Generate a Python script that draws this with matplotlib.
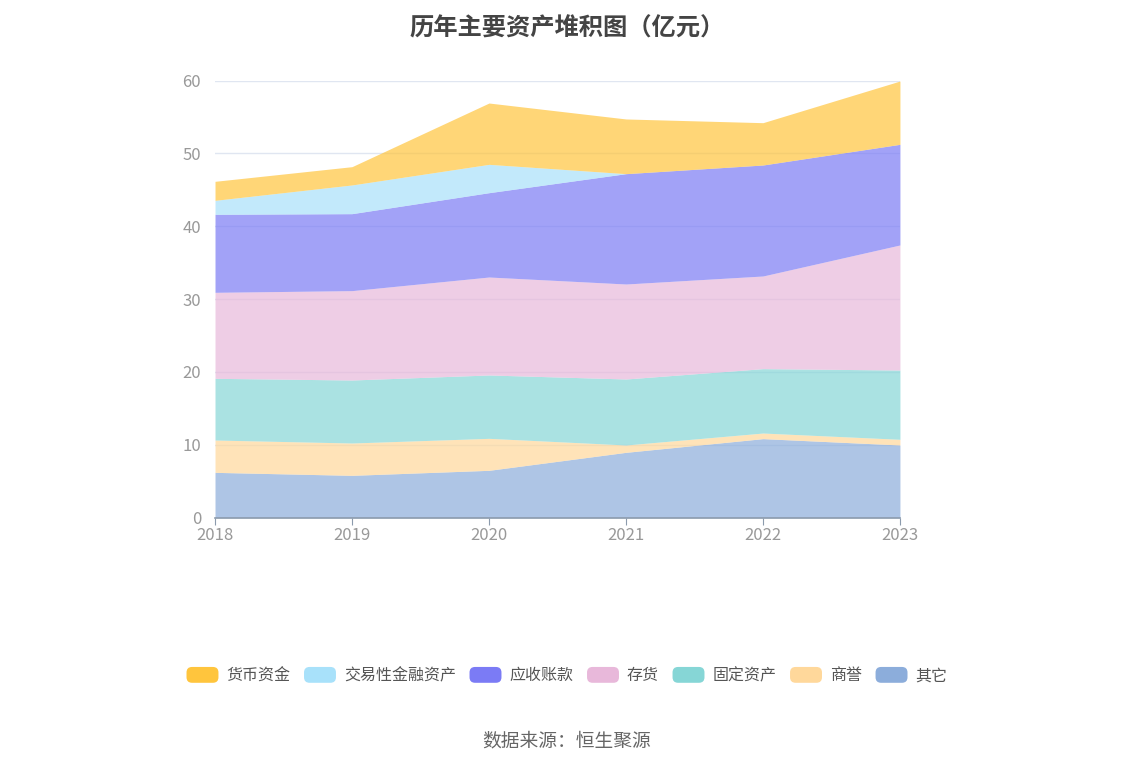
import matplotlib.pyplot as plt
import numpy as np
from matplotlib.patches import FancyBboxPatch
from matplotlib.legend_handler import HandlerPatch
import matplotlib.patches as mpatches

plt.rcParams['font.family'] = ['Noto Sans CJK SC', 'DejaVu Sans']

# data (亿元), stacked bottom -> top
years = ['2018', '2019', '2020', '2021', '2022', '2023']
other = [6.22, 5.81, 6.50, 8.97, 10.85, 9.98]
goodwill = [4.44, 4.44, 4.39, 1.01, 0.77, 0.78]
fixed_assets = [8.47, 8.65, 8.70, 9.06, 8.84, 9.51]
inventory = [11.81, 12.27, 13.45, 13.04, 12.72, 17.17]
receivables = [10.71, 10.57, 11.58, 15.15, 15.24, 13.82]
trading = [1.92, 3.94, 3.89, 0.0, 0.0, 0.0]
cash = [2.61, 2.51, 8.42, 7.51, 5.81, 8.69]

series = [
    ('其它', other, '#8CADDB'),
    ('商誉', goodwill, '#FFD89B'),
    ('固定资产', fixed_assets, '#86D6D6'),
    ('存货', inventory, '#E8B8DA'),
    ('应收账款', receivables, '#7B7BF5'),
    ('交易性金融资产', trading, '#A8E1FA'),
    ('货币资金', cash, '#FFC53D'),
]

fig = plt.figure(figsize=(11.34, 7.66), dpi=100)
ax = fig.add_axes([0.1896, 0.3242, 0.604, 0.5705])

x = np.arange(len(years))
base = np.zeros(len(years))
handles = {}
for name, vals, col in series:
    top = base + np.array(vals)
    ax.fill_between(x, base, top, color=col, alpha=0.7, linewidth=0)
    handles[name] = mpatches.Patch(color=col)
    base = top

ax.set_xlim(0, len(years) - 1)
ax.set_ylim(0, 60)
ax.set_yticks(range(0, 61, 10))
ax.set_xticks(x)
ax.set_xticklabels(years)
ax.grid(axis='y', color='#E0E6F1', linewidth=1)
ax.set_axisbelow(True)
for s in ['top', 'right', 'left']:
    ax.spines[s].set_visible(False)
ax.spines['bottom'].set_color('#8C9BAD')
ax.spines['bottom'].set_linewidth(1.2)
ax.tick_params(axis='y', length=0, labelsize=12, labelcolor='#999999', pad=10)
ax.tick_params(axis='x', length=5, color='#8C9BAD', labelsize=12, labelcolor='#999999', pad=2)

fig.text(0.5, 0.979, '历年主要资产堆积图（亿元）', ha='center', va='top',
         fontsize=17.5, fontweight='bold', color='#444444')


class RoundHandler(HandlerPatch):
    def create_artists(self, legend, orig_handle, xdescent, ydescent,
                       width, height, fontsize, trans):
        p = FancyBboxPatch((-xdescent, -ydescent), width, height,
                           boxstyle='round,pad=0,rounding_size=4',
                           facecolor=orig_handle.get_facecolor(),
                           edgecolor='none', transform=trans)
        return [p]


order = ['货币资金', '交易性金融资产', '应收账款', '存货', '固定资产', '商誉', '其它']
fig.legend([handles[n] for n in order], order, loc='center',
           bbox_to_anchor=(0.5, 0.118), ncol=7, frameon=False,
           fontsize=11.5, labelcolor='#555555', handlelength=2.0, handleheight=1.15,
           handletextpad=0.5, columnspacing=0.85,
           handler_map={mpatches.Patch: RoundHandler()})

fig.text(0.5, 0.033, '数据来源：恒生聚源', ha='center', va='center',
         fontsize=13.5, color='#666666')

fig.savefig('out.png', dpi=100)
